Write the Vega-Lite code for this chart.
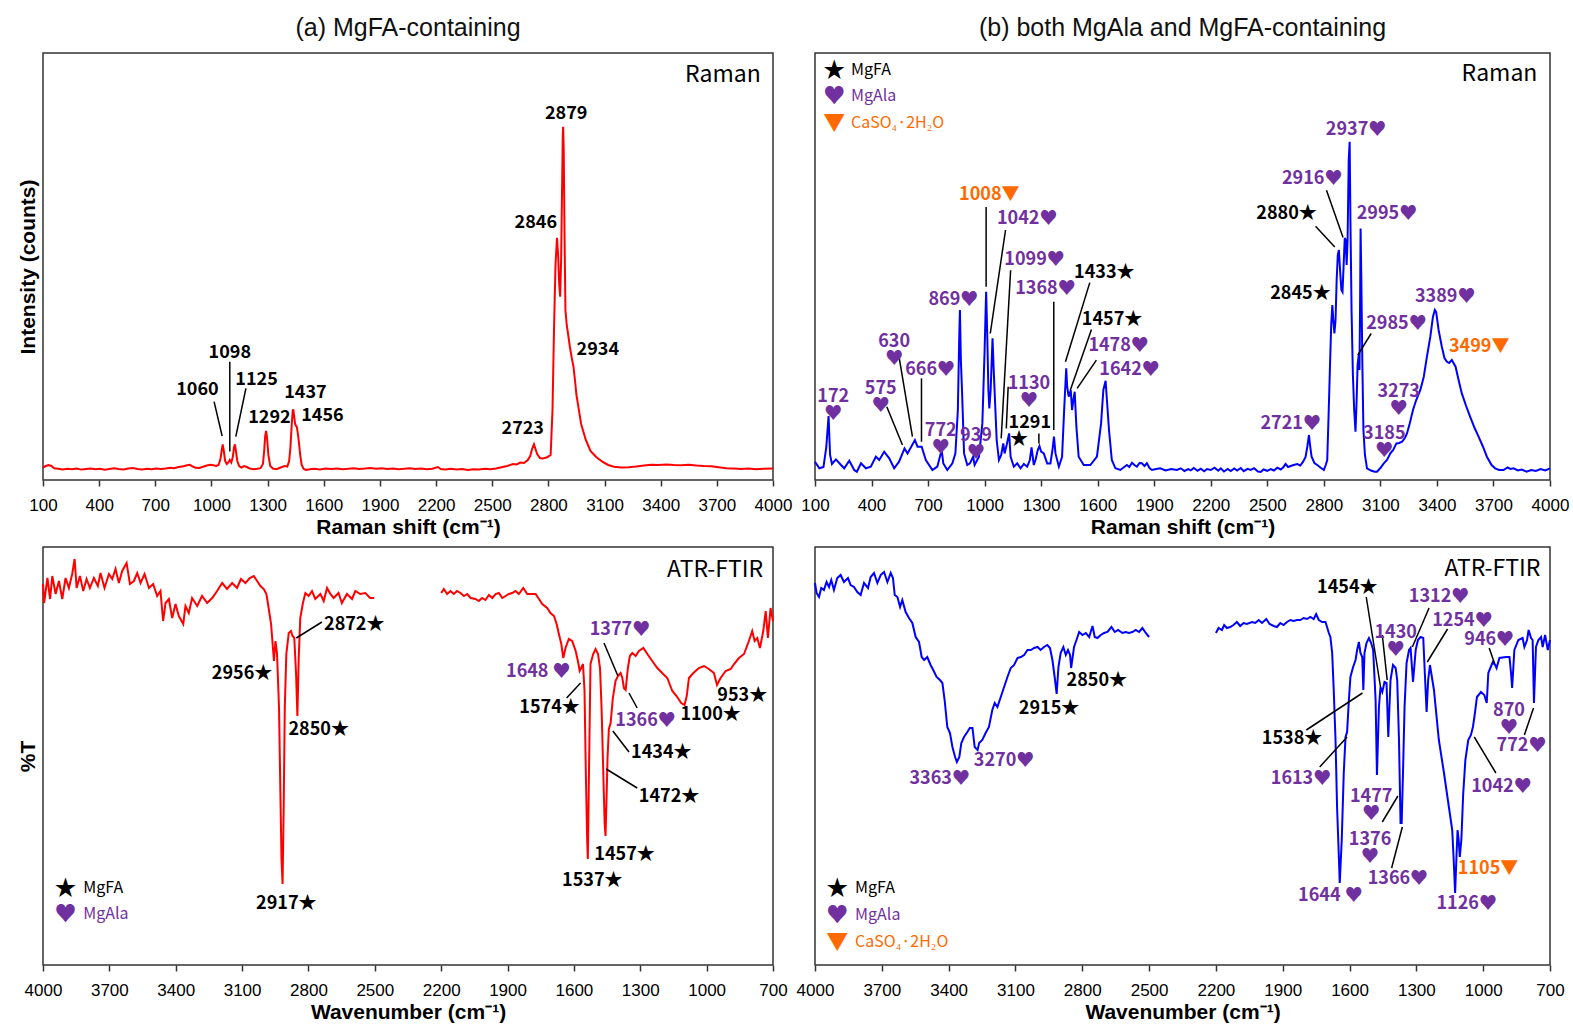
{
  "$schema": "https://vega.github.io/schema/vega-lite/v6.json",
  "padding": {"left": 16, "top": 15, "right": 10, "bottom": 6},
  "background": "white",
  "columns": 2,
  "spacing": {"row": 67, "column": 42},
  "bounds": "flush",
  "datasets": {
    "ramanA": [
      {"wn":100,"v":125},{"wn":115,"v":140},{"wn":130,"v":150},{"wn":145,"v":140},{"wn":160,"v":118},{"wn":180,"v":112},{"wn":205,"v":105},{"wn":230,"v":112},{"wn":255,"v":108},{"wn":280,"v":115},{"wn":305,"v":104},{"wn":330,"v":110},{"wn":355,"v":116},{"wn":380,"v":108},{"wn":405,"v":113},{"wn":430,"v":103},{"wn":455,"v":110},{"wn":480,"v":118},{"wn":505,"v":110},{"wn":530,"v":106},{"wn":555,"v":114},{"wn":580,"v":120},{"wn":605,"v":110},{"wn":630,"v":104},{"wn":655,"v":112},{"wn":680,"v":108},{"wn":705,"v":116},{"wn":730,"v":110},{"wn":755,"v":114},{"wn":780,"v":122},{"wn":800,"v":118},{"wn":825,"v":130},{"wn":850,"v":138},{"wn":870,"v":148},{"wn":885,"v":152},{"wn":900,"v":135},{"wn":915,"v":122},{"wn":935,"v":120},{"wn":955,"v":132},{"wn":975,"v":145},{"wn":995,"v":152},{"wn":1010,"v":148},{"wn":1025,"v":140},{"wn":1038,"v":150},{"wn":1048,"v":210},{"wn":1055,"v":300},{"wn":1060,"v":357},{"wn":1066,"v":290},{"wn":1073,"v":190},{"wn":1082,"v":160},{"wn":1090,"v":175},{"wn":1098,"v":200},{"wn":1106,"v":175},{"wn":1114,"v":230},{"wn":1120,"v":320},{"wn":1125,"v":357},{"wn":1130,"v":300},{"wn":1138,"v":190},{"wn":1148,"v":140},{"wn":1160,"v":125},{"wn":1175,"v":140},{"wn":1188,"v":130},{"wn":1205,"v":115},{"wn":1225,"v":108},{"wn":1245,"v":112},{"wn":1262,"v":118},{"wn":1275,"v":160},{"wn":1282,"v":300},{"wn":1287,"v":440},{"wn":1292,"v":490},{"wn":1297,"v":420},{"wn":1304,"v":250},{"wn":1314,"v":140},{"wn":1330,"v":112},{"wn":1350,"v":110},{"wn":1370,"v":125},{"wn":1390,"v":140},{"wn":1405,"v":135},{"wn":1415,"v":190},{"wn":1422,"v":330},{"wn":1429,"v":560},{"wn":1434,"v":690},{"wn":1437,"v":707},{"wn":1441,"v":650},{"wn":1447,"v":560},{"wn":1452,"v":540},{"wn":1456,"v":533},{"wn":1461,"v":470},{"wn":1467,"v":380},{"wn":1474,"v":250},{"wn":1482,"v":150},{"wn":1492,"v":112},{"wn":1505,"v":100},{"wn":1525,"v":108},{"wn":1550,"v":112},{"wn":1580,"v":106},{"wn":1610,"v":115},{"wn":1640,"v":110},{"wn":1670,"v":116},{"wn":1700,"v":108},{"wn":1730,"v":112},{"wn":1760,"v":118},{"wn":1790,"v":110},{"wn":1820,"v":114},{"wn":1850,"v":120},{"wn":1880,"v":112},{"wn":1910,"v":118},{"wn":1940,"v":110},{"wn":1970,"v":115},{"wn":2000,"v":108},{"wn":2030,"v":112},{"wn":2060,"v":118},{"wn":2090,"v":110},{"wn":2120,"v":114},{"wn":2150,"v":108},{"wn":2180,"v":112},{"wn":2210,"v":130},{"wn":2225,"v":110},{"wn":2250,"v":106},{"wn":2280,"v":112},{"wn":2310,"v":104},{"wn":2340,"v":110},{"wn":2370,"v":100},{"wn":2400,"v":108},{"wn":2430,"v":104},{"wn":2460,"v":112},{"wn":2490,"v":108},{"wn":2520,"v":115},{"wn":2550,"v":128},{"wn":2580,"v":140},{"wn":2610,"v":160},{"wn":2630,"v":155},{"wn":2650,"v":175},{"wn":2670,"v":170},{"wn":2690,"v":200},{"wn":2703,"v":240},{"wn":2713,"v":310},{"wn":2723,"v":357},{"wn":2731,"v":310},{"wn":2740,"v":260},{"wn":2755,"v":220},{"wn":2770,"v":215},{"wn":2790,"v":225},{"wn":2805,"v":240},{"wn":2812,"v":250},{"wn":2822,"v":700},{"wn":2830,"v":1500},{"wn":2838,"v":2150},{"wn":2846,"v":2423},{"wn":2852,"v":2250},{"wn":2858,"v":1950},{"wn":2863,"v":1833},{"wn":2868,"v":2200},{"wn":2873,"v":2900},{"wn":2877,"v":3450},{"wn":2879,"v":3533},{"wn":2882,"v":3300},{"wn":2886,"v":2500},{"wn":2891,"v":1700},{"wn":2898,"v":1550},{"wn":2906,"v":1450},{"wn":2915,"v":1330},{"wn":2925,"v":1220},{"wn":2934,"v":1133},{"wn":2942,"v":1000},{"wn":2950,"v":850},{"wn":2960,"v":733},{"wn":2975,"v":560},{"wn":3000,"v":400},{"wn":3025,"v":290},{"wn":3054,"v":233},{"wn":3090,"v":180},{"wn":3120,"v":150},{"wn":3150,"v":133},{"wn":3190,"v":125},{"wn":3230,"v":128},{"wn":3270,"v":135},{"wn":3310,"v":145},{"wn":3350,"v":152},{"wn":3390,"v":150},{"wn":3430,"v":155},{"wn":3470,"v":150},{"wn":3510,"v":148},{"wn":3550,"v":152},{"wn":3590,"v":145},{"wn":3630,"v":140},{"wn":3670,"v":138},{"wn":3710,"v":128},{"wn":3750,"v":118},{"wn":3790,"v":114},{"wn":3830,"v":110},{"wn":3870,"v":116},{"wn":3910,"v":108},{"wn":3950,"v":112},{"wn":4000,"v":115}
    ],
    "ramanB": [
      {"wn":100,"v":183},{"wn":123,"v":117},{"wn":145,"v":130},{"wn":160,"v":330},{"wn":172,"v":640},{"wn":180,"v":250},{"wn":190,"v":160},{"wn":211,"v":206},{"wn":238,"v":150},{"wn":255,"v":117},{"wn":282,"v":193},{"wn":308,"v":100},{"wn":322,"v":83},{"wn":344,"v":167},{"wn":370,"v":117},{"wn":396,"v":133},{"wn":423,"v":233},{"wn":441,"v":200},{"wn":467,"v":283},{"wn":494,"v":216},{"wn":520,"v":117},{"wn":546,"v":183},{"wn":575,"v":316},{"wn":591,"v":266},{"wn":630,"v":400},{"wn":644,"v":333},{"wn":666,"v":333},{"wn":688,"v":200},{"wn":723,"v":100},{"wn":749,"v":133},{"wn":772,"v":300},{"wn":781,"v":166},{"wn":802,"v":100},{"wn":829,"v":166},{"wn":845,"v":266},{"wn":858,"v":700},{"wn":865,"v":1400},{"wn":869,"v":1700},{"wn":874,"v":1200},{"wn":880,"v":900},{"wn":891,"v":266},{"wn":908,"v":150},{"wn":922,"v":166},{"wn":939,"v":233},{"wn":947,"v":150},{"wn":970,"v":233},{"wn":988,"v":566},{"wn":1000,"v":1300},{"wn":1008,"v":1883},{"wn":1014,"v":1450},{"wn":1020,"v":900},{"wn":1025,"v":716},{"wn":1032,"v":900},{"wn":1042,"v":1416},{"wn":1049,"v":1066},{"wn":1064,"v":400},{"wn":1076,"v":200},{"wn":1088,"v":250},{"wn":1099,"v":366},{"wn":1106,"v":266},{"wn":1117,"v":350},{"wn":1130,"v":466},{"wn":1138,"v":233},{"wn":1155,"v":133},{"wn":1173,"v":166},{"wn":1191,"v":117},{"wn":1208,"v":160},{"wn":1226,"v":133},{"wn":1240,"v":200},{"wn":1249,"v":326},{"wn":1261,"v":150},{"wn":1270,"v":200},{"wn":1282,"v":300},{"wn":1291,"v":340},{"wn":1300,"v":283},{"wn":1314,"v":266},{"wn":1332,"v":166},{"wn":1349,"v":166},{"wn":1360,"v":300},{"wn":1368,"v":433},{"wn":1376,"v":266},{"wn":1394,"v":133},{"wn":1411,"v":233},{"wn":1422,"v":700},{"wn":1433,"v":1116},{"wn":1438,"v":933},{"wn":1446,"v":833},{"wn":1457,"v":900},{"wn":1464,"v":700},{"wn":1471,"v":800},{"wn":1478,"v":883},{"wn":1487,"v":533},{"wn":1499,"v":233},{"wn":1526,"v":150},{"wn":1561,"v":150},{"wn":1596,"v":233},{"wn":1618,"v":566},{"wn":1630,"v":900},{"wn":1642,"v":993},{"wn":1649,"v":800},{"wn":1660,"v":500},{"wn":1675,"v":200},{"wn":1694,"v":117},{"wn":1720,"v":100},{"wn":1755,"v":150},{"wn":1768,"v":130},{"wn":1782,"v":173},{"wn":1795,"v":150},{"wn":1808,"v":133},{"wn":1822,"v":170},{"wn":1835,"v":167},{"wn":1848,"v":140},{"wn":1861,"v":167},{"wn":1875,"v":120},{"wn":1888,"v":100},{"wn":1910,"v":110},{"wn":1932,"v":117},{"wn":1960,"v":95},{"wn":1990,"v":110},{"wn":2020,"v":100},{"wn":2041,"v":117},{"wn":2060,"v":90},{"wn":2080,"v":110},{"wn":2094,"v":97},{"wn":2110,"v":120},{"wn":2130,"v":93},{"wn":2147,"v":113},{"wn":2165,"v":87},{"wn":2180,"v":110},{"wn":2200,"v":100},{"wn":2220,"v":123},{"wn":2240,"v":93},{"wn":2253,"v":117},{"wn":2270,"v":85},{"wn":2290,"v":110},{"wn":2306,"v":90},{"wn":2325,"v":115},{"wn":2340,"v":95},{"wn":2359,"v":120},{"wn":2375,"v":88},{"wn":2395,"v":112},{"wn":2412,"v":100},{"wn":2430,"v":118},{"wn":2450,"v":85},{"wn":2465,"v":80},{"wn":2480,"v":105},{"wn":2500,"v":92},{"wn":2518,"v":110},{"wn":2535,"v":95},{"wn":2553,"v":123},{"wn":2571,"v":105},{"wn":2585,"v":128},{"wn":2597,"v":160},{"wn":2610,"v":130},{"wn":2624,"v":140},{"wn":2640,"v":150},{"wn":2659,"v":160},{"wn":2675,"v":145},{"wn":2690,"v":183},{"wn":2703,"v":230},{"wn":2712,"v":330},{"wn":2721,"v":450},{"wn":2728,"v":330},{"wn":2735,"v":233},{"wn":2750,"v":170},{"wn":2765,"v":150},{"wn":2785,"v":120},{"wn":2800,"v":100},{"wn":2810,"v":150},{"wn":2818,"v":200},{"wn":2826,"v":700},{"wn":2832,"v":1100},{"wn":2839,"v":1550},{"wn":2845,"v":1750},{"wn":2850,"v":1600},{"wn":2856,"v":1466},{"wn":2862,"v":1600},{"wn":2868,"v":2000},{"wn":2874,"v":2250},{"wn":2880,"v":2300},{"wn":2886,"v":2100},{"wn":2893,"v":1900},{"wn":2899,"v":1880},{"wn":2905,"v":2150},{"wn":2911,"v":2420},{"wn":2916,"v":2400},{"wn":2921,"v":2150},{"wn":2926,"v":2400},{"wn":2932,"v":3200},{"wn":2937,"v":3383},{"wn":2941,"v":2600},{"wn":2947,"v":1700},{"wn":2954,"v":1060},{"wn":2961,"v":700},{"wn":2968,"v":483},{"wn":2974,"v":800},{"wn":2979,"v":1150},{"wn":2985,"v":1250},{"wn":2989,"v":1100},{"wn":2992,"v":1700},{"wn":2995,"v":2516},{"wn":2999,"v":2000},{"wn":3004,"v":1200},{"wn":3010,"v":500},{"wn":3018,"v":250},{"wn":3029,"v":117},{"wn":3050,"v":95},{"wn":3070,"v":83},{"wn":3082,"v":83},{"wn":3100,"v":120},{"wn":3118,"v":166},{"wn":3135,"v":200},{"wn":3153,"v":266},{"wn":3168,"v":300},{"wn":3185,"v":366},{"wn":3200,"v":370},{"wn":3215,"v":383},{"wn":3230,"v":420},{"wn":3241,"v":466},{"wn":3255,"v":560},{"wn":3273,"v":700},{"wn":3290,"v":800},{"wn":3312,"v":900},{"wn":3330,"v":1030},{"wn":3347,"v":1233},{"wn":3365,"v":1433},{"wn":3379,"v":1633},{"wn":3389,"v":1700},{"wn":3396,"v":1680},{"wn":3409,"v":1500},{"wn":3426,"v":1333},{"wn":3440,"v":1220},{"wn":3453,"v":1183},{"wn":3465,"v":1170},{"wn":3479,"v":1200},{"wn":3499,"v":1133},{"wn":3515,"v":1000},{"wn":3532,"v":866},{"wn":3555,"v":740},{"wn":3576,"v":633},{"wn":3600,"v":520},{"wn":3621,"v":433},{"wn":3645,"v":330},{"wn":3665,"v":233},{"wn":3690,"v":150},{"wn":3709,"v":117},{"wn":3730,"v":100},{"wn":3753,"v":100},{"wn":3775,"v":125},{"wn":3790,"v":110},{"wn":3806,"v":117},{"wn":3830,"v":95},{"wn":3850,"v":105},{"wn":3876,"v":83},{"wn":3900,"v":100},{"wn":3925,"v":90},{"wn":3950,"v":110},{"wn":3975,"v":95},{"wn":4000,"v":117}
    ],
    "ftirA": [
      {"seg":"high","wn":4000,"v":38.1},{"seg":"high","wn":3995,"v":36.2},{"seg":"high","wn":3980,"v":38.7},{"seg":"high","wn":3968,"v":36.6},{"seg":"high","wn":3958,"v":38.9},{"seg":"high","wn":3943,"v":37.1},{"seg":"high","wn":3928,"v":38.4},{"seg":"high","wn":3913,"v":36.6},{"seg":"high","wn":3898,"v":38.7},{"seg":"high","wn":3883,"v":37.7},{"seg":"high","wn":3868,"v":39.1},{"seg":"high","wn":3857,"v":40.6},{"seg":"high","wn":3848,"v":37.7},{"seg":"high","wn":3833,"v":38.9},{"seg":"high","wn":3818,"v":37.4},{"seg":"high","wn":3803,"v":38.6},{"seg":"high","wn":3788,"v":37.7},{"seg":"high","wn":3770,"v":38.7},{"seg":"high","wn":3752,"v":37.9},{"seg":"high","wn":3740,"v":39.2},{"seg":"high","wn":3722,"v":37.7},{"seg":"high","wn":3702,"v":39.1},{"seg":"high","wn":3687,"v":38.6},{"seg":"high","wn":3672,"v":39.6},{"seg":"high","wn":3657,"v":38.2},{"seg":"high","wn":3642,"v":39.4},{"seg":"high","wn":3622,"v":40.2},{"seg":"high","wn":3607,"v":38.1},{"seg":"high","wn":3589,"v":38.4},{"seg":"high","wn":3574,"v":39.2},{"seg":"high","wn":3559,"v":38.2},{"seg":"high","wn":3541,"v":39.1},{"seg":"high","wn":3521,"v":37.7},{"seg":"high","wn":3502,"v":38.1},{"seg":"high","wn":3484,"v":36.9},{"seg":"high","wn":3469,"v":37.4},{"seg":"high","wn":3457,"v":34.4},{"seg":"high","wn":3446,"v":36.2},{"seg":"high","wn":3431,"v":36.6},{"seg":"high","wn":3416,"v":34.7},{"seg":"high","wn":3401,"v":36.1},{"seg":"high","wn":3386,"v":34.9},{"seg":"high","wn":3366,"v":34.1},{"seg":"high","wn":3356,"v":35.9},{"seg":"high","wn":3341,"v":35.2},{"seg":"high","wn":3326,"v":36.7},{"seg":"high","wn":3303,"v":35.9},{"seg":"high","wn":3281,"v":36.9},{"seg":"high","wn":3258,"v":36.2},{"seg":"high","wn":3235,"v":36.7},{"seg":"high","wn":3213,"v":37.4},{"seg":"high","wn":3190,"v":38.2},{"seg":"high","wn":3168,"v":37.6},{"seg":"high","wn":3145,"v":38.2},{"seg":"high","wn":3123,"v":37.7},{"seg":"high","wn":3105,"v":38.6},{"seg":"high","wn":3085,"v":38.2},{"seg":"high","wn":3065,"v":38.7},{"seg":"high","wn":3047,"v":38.9},{"seg":"high","wn":3032,"v":38.4},{"seg":"high","wn":3017,"v":37.9},{"seg":"high","wn":3002,"v":37.6},{"seg":"high","wn":2990,"v":37.1},{"seg":"high","wn":2980,"v":35.7},{"seg":"high","wn":2969,"v":34.1},{"seg":"high","wn":2963,"v":32.4},{"seg":"high","wn":2956,"v":30.4},{"seg":"high","wn":2949,"v":32.4},{"seg":"high","wn":2942,"v":31.1},{"seg":"high","wn":2933,"v":25.7},{"seg":"high","wn":2927,"v":17.4},{"seg":"high","wn":2922,"v":10.7},{"seg":"high","wn":2917,"v":8.1},{"seg":"high","wn":2912,"v":15.7},{"seg":"high","wn":2907,"v":25.7},{"seg":"high","wn":2900,"v":31.1},{"seg":"high","wn":2889,"v":33.2},{"seg":"high","wn":2879,"v":33.4},{"seg":"high","wn":2872,"v":32.9},{"seg":"high","wn":2864,"v":32.7},{"seg":"high","wn":2856,"v":29.1},{"seg":"high","wn":2850,"v":24.9},{"seg":"high","wn":2844,"v":30.7},{"seg":"high","wn":2837,"v":34.7},{"seg":"high","wn":2825,"v":36.2},{"seg":"high","wn":2814,"v":37.2},{"seg":"high","wn":2799,"v":36.9},{"seg":"high","wn":2784,"v":37.4},{"seg":"high","wn":2769,"v":36.6},{"seg":"high","wn":2746,"v":37.1},{"seg":"high","wn":2731,"v":36.4},{"seg":"high","wn":2716,"v":37.7},{"seg":"high","wn":2701,"v":37.1},{"seg":"high","wn":2686,"v":36.7},{"seg":"high","wn":2664,"v":37.2},{"seg":"high","wn":2649,"v":36.2},{"seg":"high","wn":2626,"v":37.1},{"seg":"high","wn":2603,"v":36.6},{"seg":"high","wn":2588,"v":37.4},{"seg":"high","wn":2566,"v":37.1},{"seg":"high","wn":2543,"v":37.2},{"seg":"high","wn":2521,"v":36.7},{"seg":"high","wn":2503,"v":36.7},
      {"seg":"low","wn":2200,"v":37.2},{"seg":"low","wn":2188,"v":37.6},{"seg":"low","wn":2173,"v":37.1},{"seg":"low","wn":2158,"v":37.4},{"seg":"low","wn":2143,"v":37.1},{"seg":"low","wn":2128,"v":37.4},{"seg":"low","wn":2113,"v":37.2},{"seg":"low","wn":2097,"v":36.9},{"seg":"low","wn":2082,"v":37.1},{"seg":"low","wn":2067,"v":36.7},{"seg":"low","wn":2045,"v":36.6},{"seg":"low","wn":2030,"v":36.4},{"seg":"low","wn":2015,"v":36.7},{"seg":"low","wn":2000,"v":36.5},{"seg":"low","wn":1984,"v":37.0},{"seg":"low","wn":1969,"v":36.7},{"seg":"low","wn":1954,"v":37.1},{"seg":"low","wn":1939,"v":37.2},{"seg":"low","wn":1924,"v":36.7},{"seg":"low","wn":1909,"v":36.9},{"seg":"low","wn":1894,"v":37.1},{"seg":"low","wn":1879,"v":37.2},{"seg":"low","wn":1864,"v":37.4},{"seg":"low","wn":1849,"v":37.1},{"seg":"low","wn":1829,"v":37.7},{"seg":"low","wn":1811,"v":37.1},{"seg":"low","wn":1788,"v":37.1},{"seg":"low","wn":1773,"v":37.1},{"seg":"low","wn":1758,"v":36.6},{"seg":"low","wn":1743,"v":36.1},{"seg":"low","wn":1721,"v":35.7},{"seg":"low","wn":1706,"v":35.2},{"seg":"low","wn":1690,"v":34.9},{"seg":"low","wn":1678,"v":34.1},{"seg":"low","wn":1668,"v":33.1},{"seg":"low","wn":1657,"v":32.1},{"seg":"low","wn":1648,"v":30.7},{"seg":"low","wn":1638,"v":31.7},{"seg":"low","wn":1623,"v":32.6},{"seg":"low","wn":1608,"v":32.4},{"seg":"low","wn":1592,"v":31.4},{"seg":"low","wn":1582,"v":30.4},{"seg":"low","wn":1574,"v":29.4},{"seg":"low","wn":1567,"v":29.7},{"seg":"low","wn":1559,"v":30.1},{"seg":"low","wn":1552,"v":27.4},{"seg":"low","wn":1546,"v":19.1},{"seg":"low","wn":1540,"v":12.4},{"seg":"low","wn":1537,"v":10.6},{"seg":"low","wn":1532,"v":19.1},{"seg":"low","wn":1525,"v":30.1},{"seg":"low","wn":1513,"v":31.1},{"seg":"low","wn":1502,"v":31.6},{"seg":"low","wn":1491,"v":31.1},{"seg":"low","wn":1482,"v":29.7},{"seg":"low","wn":1475,"v":25.7},{"seg":"low","wn":1467,"v":19.1},{"seg":"low","wn":1461,"v":14.1},{"seg":"low","wn":1457,"v":12.9},{"seg":"low","wn":1452,"v":17.1},{"seg":"low","wn":1448,"v":20.7},{"seg":"low","wn":1442,"v":23.6},{"seg":"low","wn":1434,"v":24.2},{"seg":"low","wn":1424,"v":26.7},{"seg":"low","wn":1412,"v":28.4},{"seg":"low","wn":1401,"v":28.9},{"seg":"low","wn":1389,"v":29.2},{"seg":"low","wn":1381,"v":28.7},{"seg":"low","wn":1374,"v":27.7},{"seg":"low","wn":1366,"v":27.5},{"seg":"low","wn":1356,"v":29.7},{"seg":"low","wn":1347,"v":30.9},{"seg":"low","wn":1336,"v":31.2},{"seg":"low","wn":1321,"v":30.9},{"seg":"low","wn":1306,"v":31.4},{"seg":"low","wn":1286,"v":31.7},{"seg":"low","wn":1268,"v":31.1},{"seg":"low","wn":1246,"v":30.4},{"seg":"low","wn":1223,"v":29.7},{"seg":"low","wn":1201,"v":29.2},{"seg":"low","wn":1178,"v":28.7},{"seg":"low","wn":1155,"v":27.4},{"seg":"low","wn":1136,"v":26.9},{"seg":"low","wn":1115,"v":26.2},{"seg":"low","wn":1100,"v":26.0},{"seg":"low","wn":1090,"v":26.9},{"seg":"low","wn":1080,"v":28.7},{"seg":"low","wn":1060,"v":29.2},{"seg":"low","wn":1035,"v":29.7},{"seg":"low","wn":1012,"v":29.9},{"seg":"low","wn":990,"v":29.6},{"seg":"low","wn":967,"v":29.2},{"seg":"low","wn":953,"v":28.0},{"seg":"low","wn":937,"v":28.7},{"seg":"low","wn":914,"v":29.4},{"seg":"low","wn":891,"v":29.6},{"seg":"low","wn":876,"v":30.1},{"seg":"low","wn":854,"v":30.7},{"seg":"low","wn":831,"v":31.1},{"seg":"low","wn":809,"v":32.4},{"seg":"low","wn":794,"v":33.4},{"seg":"low","wn":783,"v":32.4},{"seg":"low","wn":771,"v":32.7},{"seg":"low","wn":759,"v":31.7},{"seg":"low","wn":744,"v":33.4},{"seg":"low","wn":733,"v":35.4},{"seg":"low","wn":723,"v":32.7},{"seg":"low","wn":711,"v":35.7},{"seg":"low","wn":700,"v":34.4}
    ],
    "ftirB": [
      {"seg":"high","wn":4000,"v":38.2},{"seg":"high","wn":3993,"v":37.2},{"seg":"high","wn":3982,"v":36.8},{"seg":"high","wn":3972,"v":37.7},{"seg":"high","wn":3960,"v":37.5},{"seg":"high","wn":3948,"v":38.3},{"seg":"high","wn":3937,"v":37.8},{"seg":"high","wn":3927,"v":38.5},{"seg":"high","wn":3915,"v":37.5},{"seg":"high","wn":3900,"v":38.7},{"seg":"high","wn":3885,"v":39.0},{"seg":"high","wn":3870,"v":38.3},{"seg":"high","wn":3852,"v":38.7},{"seg":"high","wn":3840,"v":38.0},{"seg":"high","wn":3825,"v":37.8},{"seg":"high","wn":3810,"v":37.3},{"seg":"high","wn":3795,"v":37.0},{"seg":"high","wn":3780,"v":38.2},{"seg":"high","wn":3762,"v":37.7},{"seg":"high","wn":3750,"v":38.8},{"seg":"high","wn":3735,"v":39.2},{"seg":"high","wn":3720,"v":38.2},{"seg":"high","wn":3705,"v":39.0},{"seg":"high","wn":3690,"v":39.3},{"seg":"high","wn":3675,"v":38.3},{"seg":"high","wn":3660,"v":39.2},{"seg":"high","wn":3650,"v":38.7},{"seg":"high","wn":3642,"v":37.0},{"seg":"high","wn":3630,"v":36.8},{"seg":"high","wn":3618,"v":35.8},{"seg":"high","wn":3608,"v":36.5},{"seg":"high","wn":3593,"v":35.3},{"seg":"high","wn":3578,"v":34.7},{"seg":"high","wn":3563,"v":34.2},{"seg":"high","wn":3548,"v":32.8},{"seg":"high","wn":3533,"v":32.3},{"seg":"high","wn":3521,"v":30.8},{"seg":"high","wn":3510,"v":30.5},{"seg":"high","wn":3496,"v":30.8},{"seg":"high","wn":3481,"v":30.0},{"seg":"high","wn":3469,"v":29.5},{"seg":"high","wn":3454,"v":28.8},{"seg":"high","wn":3439,"v":28.5},{"seg":"high","wn":3428,"v":28.2},{"seg":"high","wn":3418,"v":26.5},{"seg":"high","wn":3406,"v":23.8},{"seg":"high","wn":3394,"v":23.2},{"seg":"high","wn":3383,"v":21.8},{"seg":"high","wn":3371,"v":20.8},{"seg":"high","wn":3363,"v":20.3},{"seg":"high","wn":3352,"v":20.8},{"seg":"high","wn":3343,"v":22.2},{"seg":"high","wn":3331,"v":22.8},{"seg":"high","wn":3316,"v":23.3},{"seg":"high","wn":3305,"v":23.7},{"seg":"high","wn":3293,"v":23.7},{"seg":"high","wn":3283,"v":21.8},{"seg":"high","wn":3270,"v":21.5},{"seg":"high","wn":3263,"v":22.2},{"seg":"high","wn":3249,"v":22.5},{"seg":"high","wn":3234,"v":23.2},{"seg":"high","wn":3219,"v":23.8},{"seg":"high","wn":3204,"v":25.5},{"seg":"high","wn":3193,"v":26.2},{"seg":"high","wn":3181,"v":25.8},{"seg":"high","wn":3166,"v":26.8},{"seg":"high","wn":3151,"v":27.8},{"seg":"high","wn":3136,"v":28.8},{"seg":"high","wn":3121,"v":29.7},{"seg":"high","wn":3106,"v":30.0},{"seg":"high","wn":3091,"v":30.7},{"seg":"high","wn":3076,"v":30.8},{"seg":"high","wn":3061,"v":31.0},{"seg":"high","wn":3046,"v":31.5},{"seg":"high","wn":3031,"v":31.5},{"seg":"high","wn":3016,"v":31.7},{"seg":"high","wn":3001,"v":31.8},{"seg":"high","wn":2987,"v":31.5},{"seg":"high","wn":2972,"v":31.8},{"seg":"high","wn":2957,"v":32.0},{"seg":"high","wn":2945,"v":31.7},{"seg":"high","wn":2934,"v":30.5},{"seg":"high","wn":2924,"v":28.8},{"seg":"high","wn":2915,"v":27.1},{"seg":"high","wn":2907,"v":29.8},{"seg":"high","wn":2897,"v":31.2},{"seg":"high","wn":2885,"v":31.8},{"seg":"high","wn":2874,"v":31.0},{"seg":"high","wn":2864,"v":31.5},{"seg":"high","wn":2855,"v":31.0},{"seg":"high","wn":2850,"v":29.7},{"seg":"high","wn":2837,"v":31.8},{"seg":"high","wn":2826,"v":32.5},{"seg":"high","wn":2814,"v":33.3},{"seg":"high","wn":2799,"v":33.0},{"seg":"high","wn":2784,"v":33.2},{"seg":"high","wn":2769,"v":32.8},{"seg":"high","wn":2754,"v":33.9},{"seg":"high","wn":2744,"v":32.8},{"seg":"high","wn":2732,"v":32.7},{"seg":"high","wn":2717,"v":33.0},{"seg":"high","wn":2702,"v":33.2},{"seg":"high","wn":2687,"v":33.3},{"seg":"high","wn":2669,"v":33.8},{"seg":"high","wn":2654,"v":33.3},{"seg":"high","wn":2639,"v":33.5},{"seg":"high","wn":2620,"v":33.2},{"seg":"high","wn":2605,"v":33.3},{"seg":"high","wn":2590,"v":33.2},{"seg":"high","wn":2575,"v":33.3},{"seg":"high","wn":2560,"v":33.5},{"seg":"high","wn":2545,"v":33.3},{"seg":"high","wn":2530,"v":33.7},{"seg":"high","wn":2515,"v":33.2},{"seg":"high","wn":2500,"v":32.8},
      {"seg":"low","wn":2200,"v":33.2},{"seg":"low","wn":2188,"v":33.7},{"seg":"low","wn":2173,"v":33.5},{"seg":"low","wn":2163,"v":34.0},{"seg":"low","wn":2151,"v":33.7},{"seg":"low","wn":2136,"v":33.8},{"seg":"low","wn":2121,"v":34.0},{"seg":"low","wn":2106,"v":34.3},{"seg":"low","wn":2091,"v":33.9},{"seg":"low","wn":2076,"v":34.2},{"seg":"low","wn":2061,"v":34.1},{"seg":"low","wn":2038,"v":34.3},{"seg":"low","wn":2023,"v":34.2},{"seg":"low","wn":2008,"v":34.5},{"seg":"low","wn":1993,"v":34.2},{"seg":"low","wn":1974,"v":34.6},{"seg":"low","wn":1959,"v":34.1},{"seg":"low","wn":1941,"v":33.9},{"seg":"low","wn":1926,"v":33.8},{"seg":"low","wn":1911,"v":34.2},{"seg":"low","wn":1896,"v":34.0},{"seg":"low","wn":1881,"v":34.3},{"seg":"low","wn":1866,"v":34.5},{"seg":"low","wn":1851,"v":34.4},{"seg":"low","wn":1836,"v":34.5},{"seg":"low","wn":1821,"v":34.5},{"seg":"low","wn":1806,"v":34.7},{"seg":"low","wn":1791,"v":34.6},{"seg":"low","wn":1776,"v":34.8},{"seg":"low","wn":1761,"v":34.6},{"seg":"low","wn":1750,"v":35.1},{"seg":"low","wn":1738,"v":34.5},{"seg":"low","wn":1723,"v":34.3},{"seg":"low","wn":1708,"v":34.3},{"seg":"low","wn":1701,"v":33.8},{"seg":"low","wn":1693,"v":33.2},{"seg":"low","wn":1686,"v":32.8},{"seg":"low","wn":1678,"v":31.2},{"seg":"low","wn":1671,"v":27.5},{"seg":"low","wn":1663,"v":22.5},{"seg":"low","wn":1656,"v":15.8},{"seg":"low","wn":1648,"v":10.8},{"seg":"low","wn":1644,"v":8.2},{"seg":"low","wn":1635,"v":12.5},{"seg":"low","wn":1626,"v":19.2},{"seg":"low","wn":1618,"v":22.8},{"seg":"low","wn":1611,"v":23.3},{"seg":"low","wn":1603,"v":26.5},{"seg":"low","wn":1596,"v":28.8},{"seg":"low","wn":1584,"v":29.8},{"seg":"low","wn":1573,"v":30.5},{"seg":"low","wn":1566,"v":31.5},{"seg":"low","wn":1558,"v":32.3},{"seg":"low","wn":1551,"v":31.2},{"seg":"low","wn":1543,"v":30.8},{"seg":"low","wn":1538,"v":27.5},{"seg":"low","wn":1533,"v":31.2},{"seg":"low","wn":1524,"v":32.2},{"seg":"low","wn":1513,"v":32.7},{"seg":"low","wn":1503,"v":32.2},{"seg":"low","wn":1494,"v":31.5},{"seg":"low","wn":1483,"v":26.5},{"seg":"low","wn":1477,"v":19.0},{"seg":"low","wn":1468,"v":25.8},{"seg":"low","wn":1461,"v":27.8},{"seg":"low","wn":1453,"v":27.3},{"seg":"low","wn":1443,"v":28.3},{"seg":"low","wn":1434,"v":28.2},{"seg":"low","wn":1426,"v":22.8},{"seg":"low","wn":1416,"v":28.5},{"seg":"low","wn":1405,"v":30.0},{"seg":"low","wn":1393,"v":29.7},{"seg":"low","wn":1386,"v":28.5},{"seg":"low","wn":1378,"v":22.5},{"seg":"low","wn":1371,"v":14.2},{"seg":"low","wn":1366,"v":14.2},{"seg":"low","wn":1360,"v":19.2},{"seg":"low","wn":1353,"v":25.8},{"seg":"low","wn":1344,"v":30.2},{"seg":"low","wn":1333,"v":31.5},{"seg":"low","wn":1326,"v":31.7},{"seg":"low","wn":1315,"v":28.3},{"seg":"low","wn":1303,"v":31.5},{"seg":"low","wn":1293,"v":32.5},{"seg":"low","wn":1281,"v":32.8},{"seg":"low","wn":1269,"v":32.7},{"seg":"low","wn":1262,"v":29.2},{"seg":"low","wn":1254,"v":25.3},{"seg":"low","wn":1247,"v":28.5},{"seg":"low","wn":1239,"v":30.0},{"seg":"low","wn":1221,"v":27.5},{"seg":"low","wn":1199,"v":22.5},{"seg":"low","wn":1176,"v":19.2},{"seg":"low","wn":1154,"v":15.8},{"seg":"low","wn":1139,"v":13.5},{"seg":"low","wn":1133,"v":10.8},{"seg":"low","wn":1126,"v":7.2},{"seg":"low","wn":1120,"v":10.8},{"seg":"low","wn":1115,"v":13.5},{"seg":"low","wn":1110,"v":12.5},{"seg":"low","wn":1105,"v":10.8},{"seg":"low","wn":1098,"v":12.5},{"seg":"low","wn":1090,"v":17.0},{"seg":"low","wn":1080,"v":20.5},{"seg":"low","wn":1067,"v":22.5},{"seg":"low","wn":1055,"v":23.0},{"seg":"low","wn":1046,"v":23.8},{"seg":"low","wn":1037,"v":25.2},{"seg":"low","wn":1028,"v":26.8},{"seg":"low","wn":1010,"v":27.3},{"seg":"low","wn":995,"v":27.0},{"seg":"low","wn":984,"v":26.2},{"seg":"low","wn":977,"v":29.2},{"seg":"low","wn":957,"v":30.3},{"seg":"low","wn":946,"v":30.0},{"seg":"low","wn":940,"v":29.7},{"seg":"low","wn":927,"v":30.7},{"seg":"low","wn":897,"v":30.8},{"seg":"low","wn":882,"v":30.8},{"seg":"low","wn":875,"v":29.2},{"seg":"low","wn":870,"v":27.7},{"seg":"low","wn":860,"v":31.5},{"seg":"low","wn":842,"v":32.5},{"seg":"low","wn":823,"v":32.7},{"seg":"low","wn":815,"v":31.8},{"seg":"low","wn":803,"v":32.5},{"seg":"low","wn":796,"v":33.5},{"seg":"low","wn":785,"v":32.7},{"seg":"low","wn":778,"v":32.5},{"seg":"low","wn":772,"v":26.2},{"seg":"low","wn":763,"v":31.8},{"seg":"low","wn":752,"v":32.5},{"seg":"low","wn":740,"v":32.8},{"seg":"low","wn":733,"v":31.8},{"seg":"low","wn":722,"v":33.0},{"seg":"low","wn":710,"v":31.5},{"seg":"low","wn":700,"v":32.5}
    ],
    "labelsRamanA": [
      {"wn":925,"v":900,"label":"1060","kind":"MgFA"},
      {"wn":1098,"v":1270,"label":"1098","kind":"MgFA"},
      {"wn":1241,"v":1000,"label":"1125","kind":"MgFA"},
      {"wn":1310,"v":620,"label":"1292","kind":"MgFA"},
      {"wn":1502,"v":870,"label":"1437","kind":"MgFA"},
      {"wn":1593,"v":640,"label":"1456","kind":"MgFA"},
      {"wn":2663,"v":510,"label":"2723","kind":"MgFA"},
      {"wn":2733,"v":2570,"label":"2846","kind":"MgFA"},
      {"wn":2895,"v":3660,"label":"2879","kind":"MgFA"},
      {"wn":3064,"v":1300,"label":"2934","kind":"MgFA"}
    ],
    "leadersRamanA": [
      {"wn":1014,"v":783,"wn2":1057,"v2":440},
      {"wn":1098,"v":1183,"wn2":1098,"v2":285},
      {"wn":1184,"v":917,"wn2":1130,"v2":433}
    ],
    "labelsRamanB": [
      {"wn":197,"v":833,"label":"172\n♥","kind":"MgAla"},
      {"wn":449,"v":906,"label":"575\n♥","kind":"MgAla"},
      {"wn":520,"v":1383,"label":"630\n♥","kind":"MgAla"},
      {"wn":711,"v":1100,"label":"666♥","kind":"MgAla"},
      {"wn":767,"v":486,"label":"772\n♥","kind":"MgAla"},
      {"wn":954,"v":440,"label":"939\n♥","kind":"MgAla"},
      {"wn":834,"v":1805,"label":"869♥","kind":"MgAla"},
      {"wn":1025,"v":2847,"label":"1008▼","kind":"CaSO4"},
      {"wn":1226,"v":2614,"label":"1042♥","kind":"MgAla"},
      {"wn":1265,"v":2198,"label":"1099♥","kind":"MgAla"},
      {"wn":1323,"v":1915,"label":"1368♥","kind":"MgAla"},
      {"wn":1635,"v":2075,"label":"1433★","kind":"MgFA"},
      {"wn":1676,"v":1598,"label":"1457★","kind":"MgFA"},
      {"wn":1711,"v":1339,"label":"1478♥","kind":"MgAla"},
      {"wn":1769,"v":1100,"label":"1642♥","kind":"MgAla"},
      {"wn":1235,"v":962,"label":"1130\n♥","kind":"MgAla"},
      {"wn":1240,"v":573,"label":"1291","kind":"MgFA"},
      {"wn":1182,"v":400,"label":"★","kind":"MgFA"},
      {"wn":2971,"v":3503,"label":"2937♥","kind":"MgAla"},
      {"wn":2738,"v":3014,"label":"2916♥","kind":"MgAla"},
      {"wn":2602,"v":2664,"label":"2880★","kind":"MgFA"},
      {"wn":3135,"v":2657,"label":"2995♥","kind":"MgAla"},
      {"wn":2676,"v":1858,"label":"2845★","kind":"MgFA"},
      {"wn":3444,"v":1832,"label":"3389♥","kind":"MgAla"},
      {"wn":3185,"v":1565,"label":"2985♥","kind":"MgAla"},
      {"wn":3624,"v":1332,"label":"3499▼","kind":"CaSO4"},
      {"wn":3197,"v":879,"label":"3273\n♥","kind":"MgAla"},
      {"wn":2624,"v":556,"label":"2721♥","kind":"MgAla"},
      {"wn":3121,"v":460,"label":"3185\n♥","kind":"MgAla"}
    ],
    "leadersRamanB": [
      {"wn":1008,"v":2730,"wn2":1008,"v2":1932},
      {"wn":1111,"v":2500,"wn2":1030,"v2":1465},
      {"wn":1138,"v":2098,"wn2":1088,"v2":416},
      {"wn":1125,"v":933,"wn2":1115,"v2":516},
      {"wn":1288,"v":466,"wn2":1288,"v2":366},
      {"wn":1367,"v":1782,"wn2":1367,"v2":500},
      {"wn":1558,"v":1974,"wn2":1429,"v2":1182},
      {"wn":1567,"v":1505,"wn2":1455,"v2":900},
      {"wn":1593,"v":1199,"wn2":1491,"v2":916},
      {"wn":481,"v":733,"wn2":564,"v2":350},
      {"wn":546,"v":1232,"wn2":617,"v2":433},
      {"wn":665,"v":1016,"wn2":665,"v2":383},
      {"wn":2814,"v":2897,"wn2":2902,"v2":2424},
      {"wn":2756,"v":2537,"wn2":2858,"v2":2331},
      {"wn":3051,"v":1465,"wn2":2980,"v2":1249}
    ],
    "labelsFtirA": [
      {"wn":2593,"v":34.0,"label":"2872★","kind":"MgFA"},
      {"wn":3100,"v":29.1,"label":"2956★","kind":"MgFA"},
      {"wn":2754,"v":23.5,"label":"2850★","kind":"MgFA"},
      {"wn":2900,"v":6.1,"label":"2917★","kind":"MgFA"},
      {"wn":1392,"v":33.5,"label":"1377♥","kind":"MgAla"},
      {"wn":1761,"v":29.3,"label":"1648 ♥","kind":"MgAla"},
      {"wn":1710,"v":25.7,"label":"1574★","kind":"MgFA"},
      {"wn":1276,"v":24.4,"label":"1366♥","kind":"MgAla"},
      {"wn":982,"v":25.0,"label":"1100★","kind":"MgFA"},
      {"wn":839,"v":26.9,"label":"953★","kind":"MgFA"},
      {"wn":1205,"v":21.2,"label":"1434★","kind":"MgFA"},
      {"wn":1170,"v":16.8,"label":"1472★","kind":"MgFA"},
      {"wn":1371,"v":11.0,"label":"1457★","kind":"MgFA"},
      {"wn":1517,"v":8.4,"label":"1537★","kind":"MgFA"}
    ],
    "leadersFtirA": [
      {"wn":2739,"v":34.3,"wn2":2855,"v2":32.7},
      {"wn":1464,"v":32.2,"wn2":1401,"v2":28.9},
      {"wn":1633,"v":26.7,"wn2":1570,"v2":28.2},
      {"wn":1314,"v":25.7,"wn2":1351,"v2":27.2},
      {"wn":1351,"v":21.3,"wn2":1424,"v2":23.4},
      {"wn":1314,"v":17.7,"wn2":1454,"v2":19.6}
    ],
    "labelsFtirB": [
      {"wn":2735,"v":28.4,"label":"2850★","kind":"MgFA"},
      {"wn":2949,"v":25.6,"label":"2915★","kind":"MgFA"},
      {"wn":3440,"v":18.6,"label":"3363♥","kind":"MgAla"},
      {"wn":3151,"v":20.4,"label":"3270♥","kind":"MgAla"},
      {"wn":1610,"v":37.7,"label":"1454★","kind":"MgFA"},
      {"wn":1198,"v":36.8,"label":"1312♥","kind":"MgAla"},
      {"wn":1393,"v":33.2,"label":"1430\n♥","kind":"MgAla"},
      {"wn":1093,"v":34.4,"label":"1254♥","kind":"MgAla"},
      {"wn":973,"v":32.5,"label":"946♥","kind":"MgAla"},
      {"wn":884,"v":25.4,"label":"870\n♥","kind":"MgAla"},
      {"wn":1858,"v":22.6,"label":"1538★","kind":"MgFA"},
      {"wn":828,"v":21.9,"label":"772♥","kind":"MgAla"},
      {"wn":1818,"v":18.6,"label":"1613♥","kind":"MgAla"},
      {"wn":918,"v":17.8,"label":"1042♥","kind":"MgAla"},
      {"wn":1503,"v":16.8,"label":"1477\n♥","kind":"MgAla"},
      {"wn":1508,"v":12.5,"label":"1376\n♥","kind":"MgAla"},
      {"wn":978,"v":9.6,"label":"1105▼","kind":"CaSO4"},
      {"wn":1383,"v":8.6,"label":"1366♥","kind":"MgAla"},
      {"wn":1686,"v":6.9,"label":"1644 ♥","kind":"MgAla"},
      {"wn":1074,"v":6.1,"label":"1126♥","kind":"MgAla"}
    ],
    "leadersFtirB": [
      {"wn":1525,"v":36.8,"wn2":1461,"v2":27.8},
      {"wn":1453,"v":33.0,"wn2":1431,"v2":28.5},
      {"wn":1243,"v":35.7,"wn2":1318,"v2":31.8},
      {"wn":1160,"v":33.6,"wn2":1251,"v2":30.3},
      {"wn":973,"v":31.7,"wn2":948,"v2":30.1},
      {"wn":1794,"v":23.5,"wn2":1542,"v2":27.2},
      {"wn":1734,"v":19.8,"wn2":1611,"v2":22.8},
      {"wn":1453,"v":14.3,"wn2":1383,"v2":16.9},
      {"wn":1411,"v":9.7,"wn2":1363,"v2":13.8},
      {"wn":943,"v":19.2,"wn2":1040,"v2":22.8},
      {"wn":815,"v":23.0,"wn2":774,"v2":25.7}
    ],
    "keyRamanB": [
      {"wn":202,"wnText":291,"v":4103,"glyph":"★","name":"MgFA","kind":"MgFA"},
      {"wn":202,"wnText":291,"v":3836,"glyph":"♥","name":"MgAla","kind":"MgAla"},
      {"wn":202,"wnText":291,"v":3570,"glyph":"▼","name":"CaSO₄·2H₂O","kind":"CaSO4"}
    ],
    "keyFtirA": [
      {"wn":3898,"wnText":3818,"v":7.7,"glyph":"★","name":"MgFA","kind":"MgFA"},
      {"wn":3898,"wnText":3818,"v":5.1,"glyph":"♥","name":"MgAla","kind":"MgAla"}
    ],
    "keyFtirB": [
      {"wn":3900,"wnText":3820,"v":7.7,"glyph":"★","name":"MgFA","kind":"MgFA"},
      {"wn":3900,"wnText":3820,"v":5.0,"glyph":"♥","name":"MgAla","kind":"MgAla"},
      {"wn":3900,"wnText":3820,"v":2.3,"glyph":"▼","name":"CaSO₄·2H₂O","kind":"CaSO4"}
    ]
  },
  "concat": [
    {
      "width": 730,
      "height": 427,
      "title": {"text": "(a) MgFA-containing", "frame": "group", "anchor": "middle", "fontSize": 25, "fontWeight": "normal", "font": "Liberation Sans", "color": "#111111", "offset": 12},
      "layer": [
        {
          "data": {"name": "ramanA"},
          "mark": {"type": "line", "color": "#FF0000", "strokeWidth": 2},
          "encoding": {
            "x": {"field": "wn", "type": "quantitative", "scale": {"domain": [100, 4000], "nice": false, "zero": false},
                  "axis": {"title": "Raman shift (cm⁻¹)", "format": "d", "values": [100,400,700,1000,1300,1600,1900,2200,2500,2800,3100,3400,3700,4000]}},
            "y": {"field": "v", "type": "quantitative", "scale": {"domain": [0, 4270], "nice": false},
                  "axis": {"title": "Intensity (counts)", "labels": false, "ticks": false, "domain": false, "grid": false, "titlePadding": 5}}
          }
        },
        {
          "data": {"name": "leadersRamanA"},
          "mark": {"type": "rule", "color": "#000000", "strokeWidth": 1.5},
          "encoding": {
            "x": {"field": "wn", "type": "quantitative", "scale": {"domain": [100, 4000], "nice": false, "zero": false}},
            "y": {"field": "v", "type": "quantitative", "scale": {"domain": [0, 4270], "nice": false}},
            "x2": {"field": "wn2"}, "y2": {"field": "v2"}
          }
        },
        {
          "data": {"name": "labelsRamanA"},
          "mark": {"type": "text", "font": "Noto Sans CJK KR", "fontSize": 18, "fontWeight": "bold", "align": "center", "baseline": "middle", "lineBreak": "\n", "lineHeight": 17},
          "encoding": {
            "x": {"field": "wn", "type": "quantitative", "scale": {"domain": [100, 4000], "nice": false, "zero": false}},
            "y": {"field": "v", "type": "quantitative", "scale": {"domain": [0, 4270], "nice": false}},
            "text": {"field": "label"},
            "color": {"field": "kind", "type": "nominal", "scale": {"domain": ["MgFA", "MgAla", "CaSO4"], "range": ["#000000", "#7030A0", "#FF6A00"]}, "legend": null}
          }
        },
        {
          "data": {"values": [{"wn": 3935, "v": 4050, "name": "Raman"}]},
          "mark": {"type": "text", "font": "Noto Sans CJK KR", "fontSize": 23, "align": "right", "baseline": "middle", "color": "#000000"},
          "encoding": {
            "x": {"field": "wn", "type": "quantitative", "scale": {"domain": [100, 4000], "nice": false, "zero": false}},
            "y": {"field": "v", "type": "quantitative", "scale": {"domain": [0, 4270], "nice": false}},
            "text": {"field": "name"}
          }
        }
      ]
    },
    {
      "width": 735,
      "height": 427,
      "title": {"text": "(b) both MgAla and MgFA-containing", "frame": "group", "anchor": "middle", "fontSize": 25, "fontWeight": "normal", "font": "Liberation Sans", "color": "#111111", "offset": 12},
      "layer": [
        {
          "data": {"name": "ramanB"},
          "mark": {"type": "line", "color": "#0000FF", "strokeWidth": 2},
          "encoding": {
            "x": {"field": "wn", "type": "quantitative", "scale": {"domain": [100, 4000], "nice": false, "zero": false},
                  "axis": {"title": "Raman shift (cm⁻¹)", "format": "d", "values": [100,400,700,1000,1300,1600,1900,2200,2500,2800,3100,3400,3700,4000]}},
            "y": {"field": "v", "type": "quantitative", "scale": {"domain": [0, 4270], "nice": false}, "axis": null}
          }
        },
        {
          "data": {"name": "leadersRamanB"},
          "mark": {"type": "rule", "color": "#000000", "strokeWidth": 1.5},
          "encoding": {
            "x": {"field": "wn", "type": "quantitative", "scale": {"domain": [100, 4000], "nice": false, "zero": false}},
            "y": {"field": "v", "type": "quantitative", "scale": {"domain": [0, 4270], "nice": false}},
            "x2": {"field": "wn2"}, "y2": {"field": "v2"}
          }
        },
        {
          "data": {"name": "labelsRamanB"},
          "mark": {"type": "text", "font": "Noto Sans CJK KR", "fontSize": 18, "fontWeight": "bold", "align": "center", "baseline": "middle", "lineBreak": "\n", "lineHeight": 17},
          "encoding": {
            "x": {"field": "wn", "type": "quantitative", "scale": {"domain": [100, 4000], "nice": false, "zero": false}},
            "y": {"field": "v", "type": "quantitative", "scale": {"domain": [0, 4270], "nice": false}},
            "text": {"field": "label"},
            "color": {"field": "kind", "type": "nominal", "scale": {"domain": ["MgFA", "MgAla", "CaSO4"], "range": ["#000000", "#7030A0", "#FF6A00"]}, "legend": null}
          }
        },
        {
          "data": {"name": "keyRamanB"},
          "mark": {"type": "text", "font": "Noto Sans CJK KR", "fontSize": 22, "align": "center", "baseline": "middle"},
          "encoding": {
            "x": {"field": "wn", "type": "quantitative", "scale": {"domain": [100, 4000], "nice": false, "zero": false}},
            "y": {"field": "v", "type": "quantitative", "scale": {"domain": [0, 4270], "nice": false}},
            "text": {"field": "glyph"},
            "color": {"field": "kind", "type": "nominal", "scale": {"domain": ["MgFA", "MgAla", "CaSO4"], "range": ["#000000", "#7030A0", "#FF6A00"]}, "legend": null}
          }
        },
        {
          "data": {"name": "keyRamanB"},
          "mark": {"type": "text", "font": "Noto Sans CJK KR", "fontSize": 16, "align": "left", "baseline": "middle"},
          "encoding": {
            "x": {"field": "wnText", "type": "quantitative", "scale": {"domain": [100, 4000], "nice": false, "zero": false}},
            "y": {"field": "v", "type": "quantitative", "scale": {"domain": [0, 4270], "nice": false}},
            "text": {"field": "name"},
            "color": {"field": "kind", "type": "nominal", "scale": {"domain": ["MgFA", "MgAla", "CaSO4"], "range": ["#000000", "#7030A0", "#FF6A00"]}, "legend": null}
          }
        },
        {
          "data": {"values": [{"wn": 3933, "v": 4063, "name": "Raman"}]},
          "mark": {"type": "text", "font": "Noto Sans CJK KR", "fontSize": 23, "align": "right", "baseline": "middle", "color": "#000000"},
          "encoding": {
            "x": {"field": "wn", "type": "quantitative", "scale": {"domain": [100, 4000], "nice": false, "zero": false}},
            "y": {"field": "v", "type": "quantitative", "scale": {"domain": [0, 4270], "nice": false}},
            "text": {"field": "name"}
          }
        }
      ]
    },
    {
      "width": 730,
      "height": 418,
      "layer": [
        {
          "data": {"name": "ftirA"},
          "mark": {"type": "line", "color": "#FF0000", "strokeWidth": 2},
          "encoding": {
            "x": {"field": "wn", "type": "quantitative", "scale": {"domain": [700, 4000], "reverse": true, "nice": false, "zero": false},
                  "axis": {"title": "Wavenumber (cm⁻¹)", "format": "d", "values": [4000,3700,3400,3100,2800,2500,2200,1900,1600,1300,1000,700]}},
            "y": {"field": "v", "type": "quantitative", "scale": {"domain": [0, 41.8], "nice": false},
                  "axis": {"title": "%T", "labels": false, "ticks": false, "domain": false, "grid": false, "titlePadding": 5}},
            "detail": {"field": "seg", "type": "nominal"}
          }
        },
        {
          "data": {"name": "leadersFtirA"},
          "mark": {"type": "rule", "color": "#000000", "strokeWidth": 1.5},
          "encoding": {
            "x": {"field": "wn", "type": "quantitative", "scale": {"domain": [700, 4000], "reverse": true, "nice": false, "zero": false}},
            "y": {"field": "v", "type": "quantitative", "scale": {"domain": [0, 41.8], "nice": false}},
            "x2": {"field": "wn2"}, "y2": {"field": "v2"}
          }
        },
        {
          "data": {"name": "labelsFtirA"},
          "mark": {"type": "text", "font": "Noto Sans CJK KR", "fontSize": 18, "fontWeight": "bold", "align": "center", "baseline": "middle", "lineBreak": "\n", "lineHeight": 17},
          "encoding": {
            "x": {"field": "wn", "type": "quantitative", "scale": {"domain": [700, 4000], "reverse": true, "nice": false, "zero": false}},
            "y": {"field": "v", "type": "quantitative", "scale": {"domain": [0, 41.8], "nice": false}},
            "text": {"field": "label"},
            "color": {"field": "kind", "type": "nominal", "scale": {"domain": ["MgFA", "MgAla", "CaSO4"], "range": ["#000000", "#7030A0", "#FF6A00"]}, "legend": null}
          }
        },
        {
          "data": {"name": "keyFtirA"},
          "mark": {"type": "text", "font": "Noto Sans CJK KR", "fontSize": 22, "align": "center", "baseline": "middle"},
          "encoding": {
            "x": {"field": "wn", "type": "quantitative", "scale": {"domain": [700, 4000], "reverse": true, "nice": false, "zero": false}},
            "y": {"field": "v", "type": "quantitative", "scale": {"domain": [0, 41.8], "nice": false}},
            "text": {"field": "glyph"},
            "color": {"field": "kind", "type": "nominal", "scale": {"domain": ["MgFA", "MgAla", "CaSO4"], "range": ["#000000", "#7030A0", "#FF6A00"]}, "legend": null}
          }
        },
        {
          "data": {"name": "keyFtirA"},
          "mark": {"type": "text", "font": "Noto Sans CJK KR", "fontSize": 16, "align": "left", "baseline": "middle"},
          "encoding": {
            "x": {"field": "wnText", "type": "quantitative", "scale": {"domain": [700, 4000], "reverse": true, "nice": false, "zero": false}},
            "y": {"field": "v", "type": "quantitative", "scale": {"domain": [0, 41.8], "nice": false}},
            "text": {"field": "name"},
            "color": {"field": "kind", "type": "nominal", "scale": {"domain": ["MgFA", "MgAla", "CaSO4"], "range": ["#000000", "#7030A0", "#FF6A00"]}, "legend": null}
          }
        },
        {
          "data": {"values": [{"wn": 745, "v": 39.5, "name": "ATR-FTIR"}]},
          "mark": {"type": "text", "font": "Noto Sans CJK KR", "fontSize": 23, "align": "right", "baseline": "middle", "color": "#000000"},
          "encoding": {
            "x": {"field": "wn", "type": "quantitative", "scale": {"domain": [700, 4000], "reverse": true, "nice": false, "zero": false}},
            "y": {"field": "v", "type": "quantitative", "scale": {"domain": [0, 41.8], "nice": false}},
            "text": {"field": "name"}
          }
        }
      ]
    },
    {
      "width": 735,
      "height": 418,
      "layer": [
        {
          "data": {"name": "ftirB"},
          "mark": {"type": "line", "color": "#0000FF", "strokeWidth": 2},
          "encoding": {
            "x": {"field": "wn", "type": "quantitative", "scale": {"domain": [700, 4000], "reverse": true, "nice": false, "zero": false},
                  "axis": {"title": "Wavenumber (cm⁻¹)", "format": "d", "values": [4000,3700,3400,3100,2800,2500,2200,1900,1600,1300,1000,700]}},
            "y": {"field": "v", "type": "quantitative", "scale": {"domain": [0, 41.8], "nice": false}, "axis": null},
            "detail": {"field": "seg", "type": "nominal"}
          }
        },
        {
          "data": {"name": "leadersFtirB"},
          "mark": {"type": "rule", "color": "#000000", "strokeWidth": 1.5},
          "encoding": {
            "x": {"field": "wn", "type": "quantitative", "scale": {"domain": [700, 4000], "reverse": true, "nice": false, "zero": false}},
            "y": {"field": "v", "type": "quantitative", "scale": {"domain": [0, 41.8], "nice": false}},
            "x2": {"field": "wn2"}, "y2": {"field": "v2"}
          }
        },
        {
          "data": {"name": "labelsFtirB"},
          "mark": {"type": "text", "font": "Noto Sans CJK KR", "fontSize": 18, "fontWeight": "bold", "align": "center", "baseline": "middle", "lineBreak": "\n", "lineHeight": 17},
          "encoding": {
            "x": {"field": "wn", "type": "quantitative", "scale": {"domain": [700, 4000], "reverse": true, "nice": false, "zero": false}},
            "y": {"field": "v", "type": "quantitative", "scale": {"domain": [0, 41.8], "nice": false}},
            "text": {"field": "label"},
            "color": {"field": "kind", "type": "nominal", "scale": {"domain": ["MgFA", "MgAla", "CaSO4"], "range": ["#000000", "#7030A0", "#FF6A00"]}, "legend": null}
          }
        },
        {
          "data": {"name": "keyFtirB"},
          "mark": {"type": "text", "font": "Noto Sans CJK KR", "fontSize": 22, "align": "center", "baseline": "middle"},
          "encoding": {
            "x": {"field": "wn", "type": "quantitative", "scale": {"domain": [700, 4000], "reverse": true, "nice": false, "zero": false}},
            "y": {"field": "v", "type": "quantitative", "scale": {"domain": [0, 41.8], "nice": false}},
            "text": {"field": "glyph"},
            "color": {"field": "kind", "type": "nominal", "scale": {"domain": ["MgFA", "MgAla", "CaSO4"], "range": ["#000000", "#7030A0", "#FF6A00"]}, "legend": null}
          }
        },
        {
          "data": {"name": "keyFtirB"},
          "mark": {"type": "text", "font": "Noto Sans CJK KR", "fontSize": 16, "align": "left", "baseline": "middle"},
          "encoding": {
            "x": {"field": "wnText", "type": "quantitative", "scale": {"domain": [700, 4000], "reverse": true, "nice": false, "zero": false}},
            "y": {"field": "v", "type": "quantitative", "scale": {"domain": [0, 41.8], "nice": false}},
            "text": {"field": "name"},
            "color": {"field": "kind", "type": "nominal", "scale": {"domain": ["MgFA", "MgAla", "CaSO4"], "range": ["#000000", "#7030A0", "#FF6A00"]}, "legend": null}
          }
        },
        {
          "data": {"values": [{"wn": 743, "v": 39.6, "name": "ATR-FTIR"}]},
          "mark": {"type": "text", "font": "Noto Sans CJK KR", "fontSize": 23, "align": "right", "baseline": "middle", "color": "#000000"},
          "encoding": {
            "x": {"field": "wn", "type": "quantitative", "scale": {"domain": [700, 4000], "reverse": true, "nice": false, "zero": false}},
            "y": {"field": "v", "type": "quantitative", "scale": {"domain": [0, 41.8], "nice": false}},
            "text": {"field": "name"}
          }
        }
      ]
    }
  ],
  "config": {
    "view": {"stroke": "#333333", "strokeWidth": 1.5},
    "axis": {
      "grid": false,
      "domain": false,
      "labelFont": "Liberation Sans",
      "labelFontSize": 17,
      "labelColor": "#000000",
      "labelFlush": false,
      "labelPadding": 11,
      "tickColor": "#333333",
      "tickWidth": 1.5,
      "tickSize": 6,
      "titleFont": "Liberation Sans",
      "titleFontSize": 21,
      "titleFontWeight": "bold",
      "titleColor": "#000000",
      "titlePadding": 3
    }
  }
}
